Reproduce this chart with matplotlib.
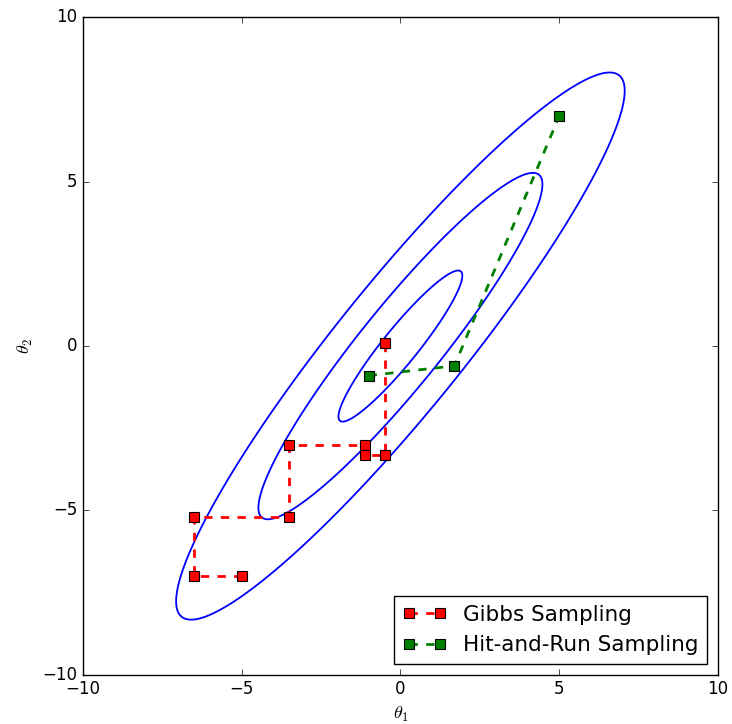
import numpy as np
import matplotlib
matplotlib.use('Agg')
import matplotlib.pyplot as plt

plt.style.use('classic')

# target density: zero-mean correlated gaussian
mean = np.array([0.0, 0.0])
cov = np.array([[1.0, 1.1],
                [1.1, 1.39]])
contour_radii = [1.95, 4.47, 7.06]   # mahalanobis radius of each drawn contour

# Gibbs sampling path
gibbs_x = [-5.0, -6.5, -6.5, -3.5, -3.5, -1.1, -1.1, -0.5, -0.5]
gibbs_y = [-7.0, -7.0, -5.2, -5.2, -3.0, -3.0, -3.3, -3.3, 0.1]

# Hit-and-run path
hr_x = [-1.0, 1.7, 5.0]
hr_y = [-0.9, -0.6, 7.0]


fig = plt.figure(figsize=(7.32, 7.24), dpi=100, facecolor='white')
ax = fig.add_axes([0.113, 0.068, 0.868, 0.908])

grid = np.linspace(-10, 10, 600)
X, Y = np.meshgrid(grid, grid)
P = np.dstack([X - mean[0], Y - mean[1]])
inv = np.linalg.inv(cov)
Q = np.einsum('...i,ij,...j->...', P, inv, P)
ax.contour(X, Y, Q, levels=[r ** 2 for r in contour_radii], colors='b', linewidths=1.3)

ax.plot(gibbs_x, gibbs_y, 'rs--', lw=2, ms=7, mec='k', mew=0.8, label='Gibbs Sampling')
ax.plot(hr_x, hr_y, 's--', color='green', lw=2, ms=7, mec='k', mew=0.8, label='Hit-and-Run Sampling')

ax.set_xlim(-10, 10)
ax.set_ylim(-10, 10)
ax.set_xticks([-10, -5, 0, 5, 10])
ax.set_yticks([-10, -5, 0, 5, 10])
ax.set_xlabel(r'$\theta_1$', fontsize=13)
ax.set_ylabel(r'$\theta_2$', fontsize=13)
ax.legend(loc='lower right', numpoints=2, fontsize=15.5)

fig.savefig('out.png', dpi=100, facecolor='white')
